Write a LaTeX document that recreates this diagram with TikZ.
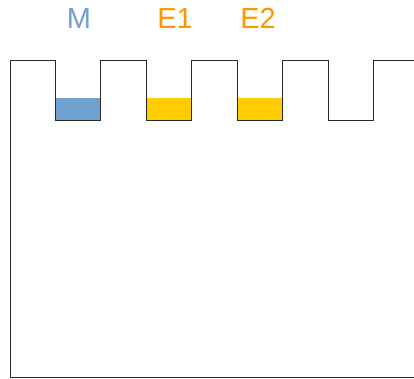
\documentclass[tikz,border=0pt]{standalone}
\usepackage{fontspec}
\setmainfont{Liberation Sans}
\definecolor{mblue}{RGB}{112,160,208}
\definecolor{eorange}{RGB}{255,150,0}
\definecolor{eyellow}{RGB}{255,204,0}
\definecolor{wallgray}{RGB}{40,40,40}

\begin{document}
\begin{tikzpicture}[x=1pt,y=-1pt]
  \useasboundingbox (0,0) rectangle (414,378);
  \tikzset{lbl/.style={anchor=base,font=\fontsize{29}{30}\selectfont,inner sep=0pt}}
  % filled wells
  \fill[mblue] (55,98) rectangle (100,120);
  \foreach \i in {1,2} \fill[eyellow] ({55+91*\i},98) rectangle ({100+91*\i},120);
  % plate outline
  \draw[wallgray,line width=1pt] (414,377) -- (10,377) -- (10,60)
    foreach \i in {0,...,3} { -- ({55+91*\i},60) -- ({55+91*\i},120)
      -- ({100+91*\i},120) -- ({100+91*\i},60) } -- (414,60);
  % labels
  \node[lbl,text=mblue] (m) at (79,28) {M};
  \node[lbl,text=eorange] (e1) at (175,28) {E1};
  \node[lbl,text=eorange] (e2) at (258,28) {E2};
\end{tikzpicture}
\end{document}
